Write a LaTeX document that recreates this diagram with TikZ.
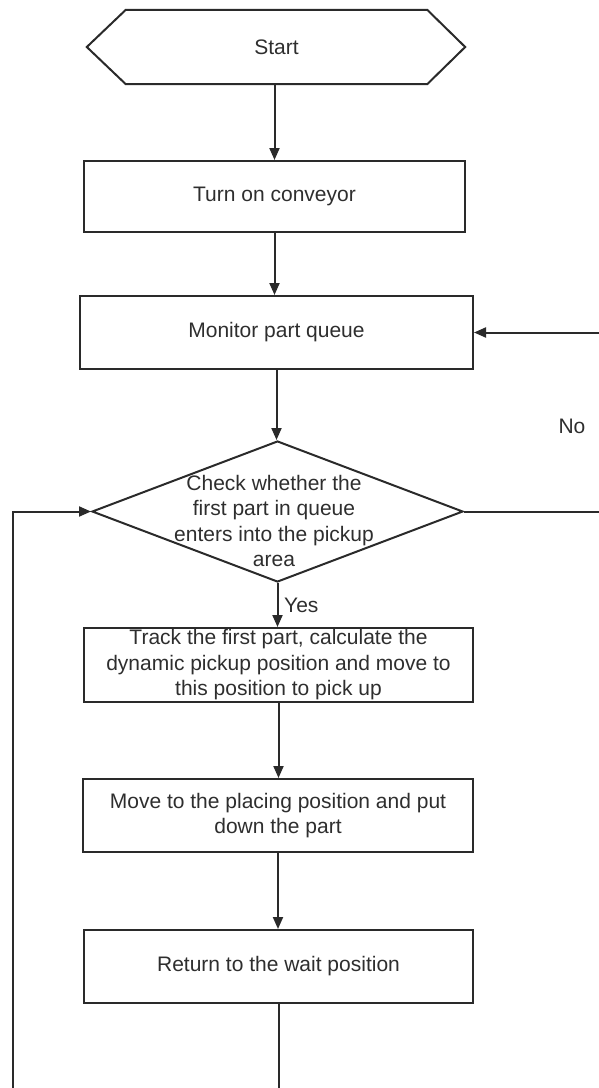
\documentclass[tikz,border=0pt]{standalone}
\usepackage{fontspec}
\setmainfont{Liberation Sans}
\usetikzlibrary{arrows.meta,shapes.geometric}
\definecolor{ln}{HTML}{2A2A2A}
\definecolor{tx}{HTML}{2E2E2E}
\tikzset{
  box/.style={draw=ln, line width=2pt, rectangle, inner sep=0pt, align=center, text=tx,
    font=\fontsize{21}{25.5}\selectfont},
  lbl/.style={text=tx, inner sep=0pt, font=\fontsize{21}{25.5}\selectfont, align=center},
  conn/.style={draw=ln, line width=2pt},
  arr/.style={conn, -{Triangle[length=12pt,width=10pt]}}
}
\begin{document}
\begin{tikzpicture}[x=1pt,y=1pt]
\useasboundingbox (0,0) rectangle (598,-1088);
% Start hexagon
\node[lbl, minimum width=301pt, minimum height=74pt] (start) at (276.5,-47) {Start};
\draw[conn, line join=miter] (start.north west) -- (start.north east) -- ([xshift=38pt]start.east)
  -- (start.south east) -- (start.south west) -- ([xshift=-39pt]start.west) -- cycle;
% Process boxes
\node[box, minimum width=381pt, minimum height=71pt] (turn) at (274.5,-196.5) {Turn on conveyor};
\node[box, minimum width=393pt, minimum height=73pt] (mon) at (276.5,-332.5) {Monitor part queue};
\node[diamond, draw=ln, line width=2pt, minimum width=371pt, minimum height=141pt, inner sep=0pt] (chk) at (277.5,-511.5) {};
\node[lbl] (chktxt) at (274,-521) {Check whether the\\first part in queue\\enters into the pickup\\area};
\node[box, minimum width=389pt, minimum height=74pt] (track) at (278.5,-665) {Track the first part, calculate the\\dynamic pickup position and move to\\this position to pick up};
\node[box, minimum width=390pt, minimum height=73pt] (move) at (278,-815.5) {Move to the placing position and put\\down the part};
\node[box, minimum width=389pt, minimum height=73pt] (ret) at (278.5,-966.5) {Return to the wait position};
% Labels
\node[lbl] (no) at (572,-426) {No};
\node[lbl, anchor=west] (yes) at (284,-605) {Yes};
% Connectors
\draw[arr] (start.south -| turn.north) -- (turn.north);
\draw[arr] (turn.south) -- (turn.south |- mon.north);
\draw[arr] (mon.south) -- (mon.south |- chk.north);
\draw[arr] (chk.south) -- (chk.south |- track.north);
\draw[arr] (track.south) -- (track.south |- move.north);
\draw[arr] (move.south) -- (move.south |- ret.north);
\coordinate (rb) at (278.5,-1090);
\draw[conn] (ret.south) -- (rb);
\coordinate (lb) at (13,-1090);
\draw[arr] (lb) |- (chk.west);
\coordinate (ne) at (600,-511.5);
\draw[conn] (chk.east) -- (ne);
\coordinate (nm) at (600,-332.5);
\draw[arr] (nm) -- (mon.east);
\end{tikzpicture}
\end{document}
